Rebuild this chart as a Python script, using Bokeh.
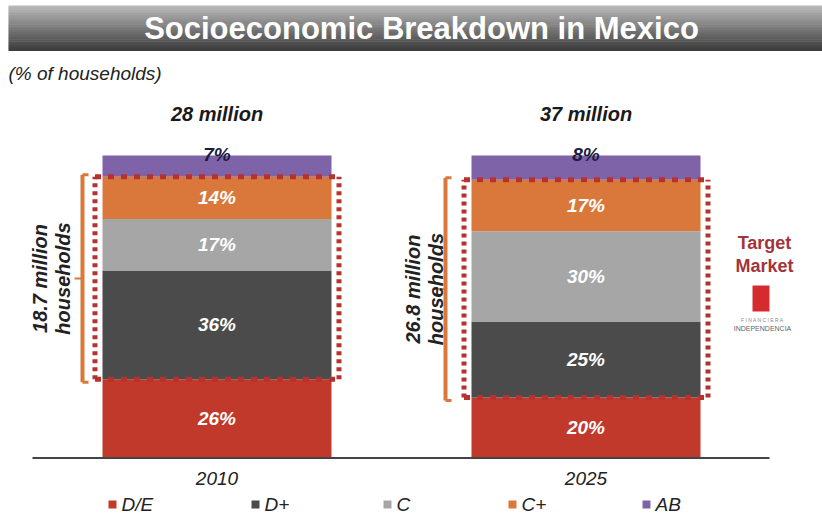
import numpy as np
from bokeh.plotting import figure
from bokeh.models import Range1d, ColumnDataSource
from bokeh.core.properties import value
from bokeh.embed import file_html
from bokeh.resources import INLINE

# ---------------- data ----------------
years = ["2010", "2025"]
totals = ["28 million", "37 million"]
segments = ["D/E", "D+", "C", "C+", "AB"]
de = [26, 20]
dplus = [36, 25]
c_share = [17, 30]
cplus = [14, 17]
ab = [7, 8]
target_households = ["18.7 million", "26.8 million"]
title = "Socioeconomic Breakdown in Mexico"
subtitle = "(% of households)"
target_label = ["Target", "Market"]

colors = ["#C0392B", "#4B4B4B", "#A6A6A6", "#DA783B", "#7F63A9"]

# ---------------- geometry helpers ----------------
W, H = 822, 516
CX0, SX = 216.5, 369.0      # px of bar 0 centre, px per category step
BASE, SY = 457.5, 3.025     # px of 0 %, px per percent
BAR_W = 229 / SX


def X(px_):
    return (px_ - CX0) / SX


def Y(py_):
    return (BASE - py_) / SY


def dx(px):
    return px / SX


def dy(px):
    return px / SY


p = figure(width=W, height=H,
           x_range=Range1d((0 - CX0) / SX, (W - CX0) / SX),
           y_range=Range1d(-(H - BASE) / SY, BASE / SY),
           output_backend="svg", toolbar_location=None, min_border=0,
           x_axis_location=None, y_axis_location=None)
p.grid.visible = False
p.outline_line_color = None
p.background_fill_color = "white"
p.border_fill_color = "white"

FONT = value("Liberation Sans")

# ---------------- title band (gradient) ----------------
n_strips = 24
top_p, bot_p = 5, 50
edges = np.linspace(top_p, bot_p, n_strips + 1)
c0 = np.array([0xB8, 0xB8, 0xB8])
c1 = np.array([0x3E, 0x3E, 0x3E])
strip_cols = []
for i in range(n_strips):
    t = i / (n_strips - 1)
    cc = (c0 * (1 - t) + c1 * t).astype(int)
    strip_cols.append("#%02x%02x%02x" % tuple(cc))
p.quad(left=[X(8)] * n_strips, right=[X(830)] * n_strips,
       top=[Y(e) for e in edges[:-1]], bottom=[Y(e + 0.6) for e in edges[1:]],
       fill_color=strip_cols, line_color=None)
p.text(x=[X(421)], y=[Y(28)], text=[title], text_color="white",
       text_font=FONT, text_font_size="31px", text_font_style="bold",
       text_align="center", text_baseline="middle")
p.text(x=[X(8)], y=[Y(73)], text=[subtitle], text_color="#222222",
       text_font=FONT, text_font_size="19px", text_font_style="italic",
       text_align="left", text_baseline="middle")

# ---------------- stacked bars ----------------
xs = [0, 1]
src = ColumnDataSource({"x": xs, "D/E": de, "D+": dplus, "C": c_share,
                        "C+": cplus, "AB": ab})
p.vbar_stack(segments, x="x", width=BAR_W, color=colors, line_color=None,
             source=src)

# axis line
p.segment(x0=[X(32)], x1=[X(769)], y0=[0], y1=[0], line_color="#444444",
          line_width=2)

# segment labels
series = [de, dplus, c_share, cplus, ab]
lx, ly, lt, lc = [], [], [], []
for i in range(2):
    cum = 0
    for k, s in enumerate(series):
        v = s[i]
        lx.append(xs[i])
        if k == len(series) - 1:
            ly.append(cum + v + dy(1.5))
            lc.append("#1C1C3C")
        else:
            ly.append(cum + v / 2)
            lc.append("white")
        lt.append("%d%%" % v)
        cum += v
p.text(x=lx, y=ly, text=lt, text_color=lc, text_font=FONT,
       text_font_size="19px", text_font_style="bold italic",
       text_align="center", text_baseline="middle")

# totals above bars
tops = [sum(s[i] for s in series) for i in range(2)]
p.text(x=xs, y=[t + dy(42) for t in tops], text=totals, text_color="#1a1a1a",
       text_font=FONT, text_font_size="20px", text_font_style="bold italic",
       text_align="center", text_baseline="middle")

# year labels
p.text(x=xs, y=[dy(-20)] * 2, text=years, text_color="#222222",
       text_font=FONT, text_font_size="19px", text_font_style="italic",
       text_align="center", text_baseline="middle")

# ---------------- dotted target-market boxes ----------------
pad = dx(7.5)
box_bot = [de[i] for i in range(2)]
box_top = [de[i] + dplus[i] + c_share[i] + cplus[i] for i in range(2)]
bl = [xs[i] - BAR_W / 2 - pad for i in range(2)]
br = [xs[i] + BAR_W / 2 + pad for i in range(2)]
dot_col = "#B7312F"
p.segment(x0=bl + bl, x1=br + br, y0=box_top + box_bot, y1=box_top + box_bot,
          line_color=dot_col, line_width=5, line_dash="6 7")
p.segment(x0=bl + br, x1=bl + br, y0=box_bot + box_bot, y1=box_top + box_top,
          line_color=dot_col, line_width=5, line_dash="4 4")

# ---------------- brackets + rotated labels ----------------
br_off = [-20, -26]
txt1_off = [-63, -59]
txt2_off = [-40, -36]
orange = "#DA783B"
for i in range(2):
    left_edge = xs[i] - BAR_W / 2
    bx = left_edge + dx(br_off[i])
    t, b = box_top[i] + dy(2), box_bot[i] - dy(3)
    mid = (t + b) / 2
    p.segment(x0=[bx, bx, bx, bx], x1=[bx, bx + dx(6), bx + dx(6), bx - dx(8)],
              y0=[b, t, b, mid], y1=[t, t, b, mid],
              line_color=orange, line_width=[4, 3, 3, 2])
    parts = target_households[i], "households"
    p.text(x=[left_edge + dx(txt1_off[i]), left_edge + dx(txt2_off[i])],
           y=[mid, mid], text=list(parts), angle=np.pi / 2,
           text_color="#222222", text_font=FONT, text_font_size="20px",
           text_font_style="bold italic", text_align="center",
           text_baseline="middle")

# ---------------- target market note + logo ----------------
p.text(x=[X(764)] * 2, y=[Y(242), Y(265)], text=target_label,
       text_color="#A3343A", text_font=FONT, text_font_size="18px",
       text_font_style="bold", text_align="center", text_baseline="middle")
p.quad(left=[X(752)], right=[X(769)], top=[Y(285)], bottom=[Y(311)],
       fill_color="#D52A2E", line_color=None)
p.text(x=[X(762)], y=[Y(319.5)], text=["F I N A N C I E R A"],
       text_color="#8a8a8a", text_font=FONT, text_font_size="5px",
       text_align="center", text_baseline="middle")
p.text(x=[X(762)], y=[Y(328)], text=["INDEPENDENCIA"], text_color="#666666",
       text_font=FONT, text_font_size="7px", text_align="center",
       text_baseline="middle")

# ---------------- legend ----------------
leg_sq = [112, 255, 387, 512, 646]
leg_y = 504
p.scatter(x=[X(v) for v in leg_sq], y=[Y(leg_y)] * 5, marker="square",
          size=8, fill_color=colors, line_color=None)
p.text(x=[X(v + 9) for v in leg_sq], y=[Y(leg_y)] * 5, text=segments,
       text_color="#222222", text_font=FONT, text_font_size="19px",
       text_font_style="italic", text_align="left", text_baseline="middle")

open("out.html", "w").write(file_html(p, INLINE))
